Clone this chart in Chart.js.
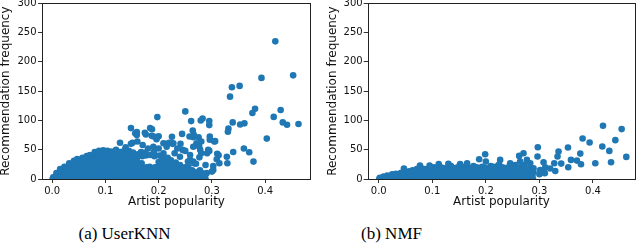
<!DOCTYPE html>
<html>
<head>
<meta charset="utf-8">
<script src="https://cdn.jsdelivr.net/npm/chart.js@4.4.1/dist/chart.umd.min.js"></script>
<style>
  body { margin: 0; width: 640px; height: 248px; background: #fff; position: relative; overflow: hidden; }
  canvas { position: absolute; top: 0; }
  #knn { left: 0; }
  #nmf { left: 320px; }
  .cap { position: absolute; top: 225px; line-height: 17px; font-family: "Liberation Serif", "Times New Roman", serif;
         font-size: 17px; color: #000; transform: translateX(-50%); white-space: nowrap; }
</style>
</head>
<body>
<canvas id="knn" width="320" height="212"></canvas>
<canvas id="nmf" width="320" height="212"></canvas>
<div class="cap" style="left:124.5px">(a) UserKNN</div>
<div class="cap" style="left:391.5px">(b) NMF</div>
<script>
// tick labels
const xTicks = [0, 0.1, 0.2, 0.3, 0.4];
const yTicks = [0, 50, 100, 150, 200, 250, 300];
const xTitle = 'Artist popularity';
const yTitle = 'Recommendation frequency';

// (a) UserKNN: [popularity, frequency] - dense low region
const userknnDense = [
  [0.001,0],[0.002,3],
  [0.008,0],[0.009,6],[0.008,10],
  [0.016,0],[0.016,7],[0.017,14],[0.015,17],
  [0.024,0],[0.024,7],[0.025,14],[0.023,21],
  [0.032,0],[0.032,7],[0.031,14],[0.033,21],[0.032,27],
  [0.040,0],[0.040,7],[0.041,14],[0.039,21],[0.040,27],[0.041,31],
  [0.048,0],[0.048,7],[0.047,14],[0.049,21],[0.048,28],[0.047,34],
  [0.056,0],[0.056,7],[0.057,14],[0.055,21],[0.056,28],[0.057,36],
  [0.064,0],[0.064,7],[0.063,14],[0.065,21],[0.064,28],[0.063,34],[0.065,39],
  [0.072,0],[0.072,7],[0.073,14],[0.071,21],[0.072,28],[0.073,35],[0.071,41],
  [0.080,0],[0.080,7],[0.079,14],[0.081,21],[0.080,28],[0.079,35],[0.081,41],[0.080,46],
  [0.088,0],[0.088,7],[0.089,14],[0.087,21],[0.088,28],[0.089,35],[0.087,42],[0.088,48],
  [0.096,0],[0.096,7],[0.095,14],[0.097,21],[0.096,28],[0.095,35],[0.097,42],[0.096,49],
  [0.104,0],[0.104,7],[0.105,14],[0.103,21],[0.104,28],[0.105,35],[0.103,42],[0.104,48],
  [0.112,0],[0.112,7],[0.111,14],[0.113,21],[0.112,28],[0.111,35],[0.113,42],[0.112,47],
  [0.120,0],[0.120,7],[0.121,14],[0.119,21],[0.120,28],[0.121,35],[0.119,42],[0.120,50],
  [0.128,0],[0.128,7],[0.127,14],[0.129,21],[0.128,28],[0.127,35],[0.129,41],[0.128,46],
  [0.136,0],[0.136,7],[0.137,14],[0.135,21],[0.136,28],[0.137,35],[0.135,42],[0.136,49],[0.138,54],
  [0.144,0],[0.144,7],[0.143,14],[0.145,21],[0.144,28],[0.143,35],[0.145,42],[0.144,48],
  [0.152,0],[0.152,7],[0.153,14],[0.151,21],[0.152,28],[0.153,35],[0.151,41],[0.152,45],
  [0.160,0],[0.160,7],[0.159,14],[0.161,21],[0.160,28],[0.159,35],[0.161,42],
  [0.168,0],[0.168,7],[0.169,14],[0.167,21],[0.168,27],[0.169,39],[0.167,46],
  [0.176,0],[0.176,7],[0.175,14],[0.177,20],[0.176,40],[0.175,45],
  [0.184,0],[0.184,7],[0.185,14],[0.183,21],[0.184,41],
  [0.192,0],[0.192,7],[0.191,14],[0.193,20],[0.192,39],[0.191,46],
  [0.200,0],[0.200,7],[0.201,14],[0.199,21],[0.200,29],[0.201,40],
  [0.208,0],[0.208,7],[0.207,14],[0.209,21],[0.208,28],[0.207,36],[0.209,44],
  [0.216,0],[0.216,7],[0.217,14],[0.215,21],[0.216,28],[0.217,36],
  [0.224,0],[0.224,7],[0.223,14],[0.225,21],[0.224,28],[0.223,32],
  [0.232,0],[0.232,7],[0.233,14],[0.231,21],[0.232,28],
  [0.240,0],[0.240,7],[0.241,14],[0.239,20],[0.240,24],
  [0.248,0],[0.248,7],[0.247,14],[0.249,20],
  [0.256,0],[0.256,7],[0.257,13],[0.255,18],
  [0.264,0],[0.264,7],[0.263,15],
  [0.272,0],[0.272,6],[0.273,12],
  [0.280,0],[0.280,6],[0.281,10],
  [0.288,0],[0.287,5]
];

// (a) UserKNN: scattered artists
const userknnSparse = [
  [0.419,235],[0.4525,177],[0.393,172.6],[0.352,159],[0.3375,156.6],[0.334,140.6],[0.381,120],[0.376,112.6],
  [0.429,117.7],[0.416,106],[0.4625,94],[0.441,92.6],[0.433,96.6],[0.361,95],[0.353,93],[0.339,96.6],
  [0.331,86],[0.33,80.6],[0.403,69],[0.36,52],[0.34,46],[0.37,45.7],[0.378,29.7],[0.329,26.9],[0.328,38],
  [0.25,115.4],[0.1975,105.7],[0.2825,103.4],[0.279,100],[0.261,98.9],[0.295,98.9],[0.295,92],[0.264,82.9],
  [0.244,77],[0.258,72.6],[0.265,71.4],[0.275,71.4],[0.296,72.6],[0.296,66.9],[0.306,64.6],[0.271,61],
  [0.28,64],[0.276,55.4],[0.278,49.7],[0.295,48],[0.291,44],[0.3125,40.6],[0.309,33.7],[0.314,26.9],
  [0.3025,22],[0.3025,15.4],[0.225,72],[0.226,60],[0.214,60],[0.241,60],[0.2,73],[0.187,73.7],[0.176,76],
  [0.1875,85],[0.159,75],[0.159,80],[0.148,86.9],[0.151,62],[0.1275,62],[0.259,41],[0.266,27],[0.288,24],
  [0.2775,15],[0.29,10],[0.2556,21],[0.266,75.4],[0.3045,64],[0.293,49.7],[0.31,42.9],[0.3,12.6],[0.287,6.9],
  [0.191,72.6],[0.196,68],[0.209,61],[0.184,87],[0.2276,61],[0.245,49.7],[0.259,32.6],[0.2765,37],[0.265,29.7],
  [0.156,78],[0.174,79],[0.16,64],[0.22,62],[0.17,58],[0.148,60],[0.19,55],[0.215,55],[0.235,52],[0.25,48],
  [0.265,55],[0.28,44],[0.24,38],[0.255,30],[0.27,26],[0.23,44],[0.2,52],[0.18,52]
];

// (b) NMF: dense low region
const nmfDense = [
  [0.001,0],[0.002,2],
  [0.008,0],[0.009,4],
  [0.016,0],[0.016,6],
  [0.024,0],[0.025,8],
  [0.032,0],[0.031,5],[0.032,9],
  [0.040,0],[0.040,6],[0.041,10],
  [0.048,0],[0.048,7],[0.047,12],
  [0.056,0],[0.056,7],[0.057,13],
  [0.064,0],[0.064,7],[0.063,15],
  [0.072,0],[0.072,7],[0.073,14],[0.071,17],
  [0.080,0],[0.080,7],[0.079,14],[0.081,18],
  [0.088,0],[0.088,7],[0.089,14],[0.087,17],
  [0.096,0],[0.096,7],[0.095,14],[0.097,18],
  [0.104,0],[0.104,7],[0.105,14],[0.103,20],
  [0.112,0],[0.112,7],[0.111,14],[0.113,22],
  [0.120,0],[0.120,7],[0.121,14],[0.119,19],
  [0.128,0],[0.128,7],[0.127,14],[0.129,20],
  [0.136,0],[0.136,7],[0.137,14],[0.135,22],
  [0.144,0],[0.144,7],[0.143,14],[0.145,19],
  [0.152,0],[0.152,7],[0.153,14],[0.151,23],
  [0.160,0],[0.160,7],[0.159,14],[0.161,21],
  [0.168,0],[0.168,7],[0.169,14],[0.167,20],
  [0.176,0],[0.176,7],[0.175,14],[0.177,22],
  [0.184,0],[0.184,7],[0.185,14],[0.183,20],
  [0.192,0],[0.192,7],[0.191,14],[0.193,21],
  [0.200,0],[0.200,7],[0.201,14],[0.199,19],
  [0.208,0],[0.208,7],[0.207,14],[0.209,22],
  [0.216,0],[0.216,7],[0.217,14],[0.215,21],
  [0.224,0],[0.224,7],[0.223,14],[0.225,24],
  [0.232,0],[0.232,7],[0.233,14],[0.231,20],
  [0.240,0],[0.240,7],[0.241,14],[0.239,19],
  [0.248,0],[0.248,7],[0.247,14],[0.249,22],
  [0.256,0],[0.256,7],[0.257,14],[0.255,24],
  [0.264,0],[0.264,7],[0.263,14],[0.265,20],
  [0.272,0],[0.272,7],[0.273,14],[0.271,22],
  [0.280,0],[0.280,7],[0.279,13],[0.281,18],
  [0.288,0],[0.287,6],[0.289,12]
];

// (b) NMF: scattered artists
const nmfSparse = [
  [0.4187,90.9],[0.4535,85.2],[0.3806,69.1],[0.4417,66.3],[0.3937,62.3],[0.297,54.3],[0.3533,53.7],[0.4174,55.4],
  [0.3357,46.8],[0.4305,48],[0.2703,44],[0.2622,39.4],[0.1987,42.3],[0.2965,38.3],[0.3763,43.4],[0.3338,38.3],
  [0.4622,37.7],[0.3589,32.6],[0.37,31.4],[0.4043,26.9],[0.4337,28.6],[0.3776,25.1],[0.3538,20],[0.3407,26.3],
  [0.3277,26.9],[0.3296,13.7],[0.3108,20],[0.3077,28.6],[0.2267,32.6],[0.2236,24],[0.2454,26.9],[0.264,29.7],
  [0.2766,32.6],[0.2828,26.9],[0.289,18.3],[0.3015,15.4],[0.272,24],[0.2516,18.3],[0.1875,33.7],[0.152,25.7],
  [0.112,25.7],[0.077,22.9],[0.047,18],[0.2,30],[0.165,27],[0.13,26],[0.095,23],[0.31,10],[0.3,8],[0.32,18]
];

const blue = '#1f77b4';
const tickFont = { family: 'DejaVu Sans', size: 10 };
const titleFont = { family: 'DejaVu Sans', size: 12, lineHeight: 1 };

// matplotlib style box around the plot
const spines = {
  id: 'spines',
  afterDraw(chart) {
    const a = chart.chartArea, ctx = chart.ctx;
    ctx.save();
    ctx.strokeStyle = '#222';
    ctx.lineWidth = 1;
    ctx.strokeRect(Math.round(a.left) + 0.5, Math.round(a.top) + 0.5,
      Math.round(a.right - a.left) - 1, Math.round(a.bottom - a.top));
    ctx.restore();
  }
};

function makeChart(id, dense, sparse, cfg) {
  const pts = dense.concat(sparse).map(p => ({ x: p[0], y: p[1] }));
  new Chart(document.getElementById(id), {
    type: 'scatter',
    data: {
      datasets: [{
        data: pts,
        backgroundColor: blue,
        borderWidth: 0,
        pointRadius: 3.3,
        pointHoverRadius: 3.3,
        clip: 0
      }]
    },
    options: {
      responsive: false,
      animation: false,
      events: [],
      layout: { padding: { top: 3, right: cfg.padRight, bottom: 0, left: 0 } },
      plugins: { legend: { display: false }, tooltip: { enabled: false } },
      scales: {
        x: {
          type: 'linear',
          min: cfg.xMin,
          max: cfg.xMax,
          afterBuildTicks: s => { s.ticks = xTicks.map(v => ({ value: v })); },
          afterFit: s => { s.height = 33; s.paddingLeft = 0; s.paddingRight = 0; },
          grid: { drawOnChartArea: false, tickLength: 4, color: '#333' },
          border: { display: false },
          ticks: { padding: 2, color: '#111', font: tickFont, maxRotation: 0, callback: v => v.toFixed(1) },
          title: { display: true, text: xTitle, color: '#111', font: titleFont, padding: { top: 0, bottom: 4 } }
        },
        y: {
          min: 0,
          max: 300,
          afterBuildTicks: s => { s.ticks = yTicks.map(v => ({ value: v })); },
          afterFit: s => { s.width = cfg.yWidth; s.paddingTop = 0; s.paddingBottom = 0; },
          grid: { drawOnChartArea: false, tickLength: 4, color: '#333' },
          border: { display: false },
          ticks: { padding: cfg.yPad, color: '#111', font: tickFont, callback: v => String(v) },
          title: { display: true, text: yTitle, color: '#111', font: titleFont, padding: { top: cfg.titlePad, bottom: 0 } }
        }
      }
    },
    plugins: [spines]
  });
}

makeChart('knn', userknnDense, userknnSparse, { xMin: -0.019, xMax: 0.486, padRight: 9, yWidth: 42, yPad: 1.5, titlePad: 0 });
makeChart('nmf', nmfDense, nmfSparse, { xMin: -0.0206, xMax: 0.479, padRight: 4.7, yWidth: 47.7, yPad: 1, titlePad: 6.7 });
</script>
</body>
</html>
